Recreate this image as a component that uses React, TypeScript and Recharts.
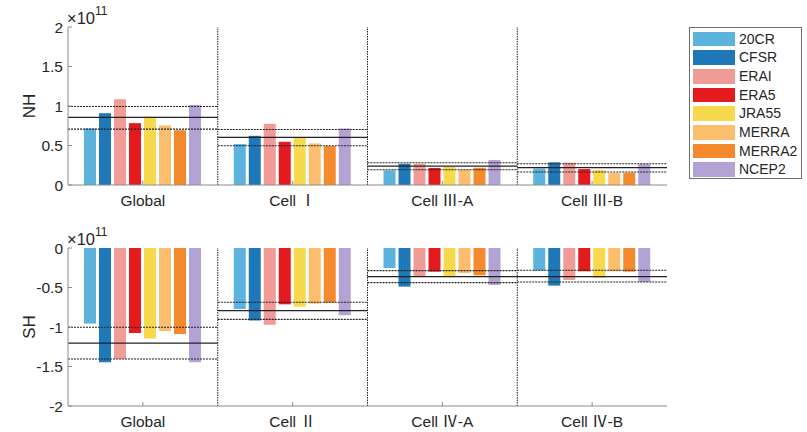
import React from "react";
import { ComposedChart, Bar, XAxis, YAxis, ReferenceLine } from "recharts";

const seriesNames = ["20CR", "CFSR", "ERAI", "ERA5", "JRA55", "MERRA", "MERRA2", "NCEP2"];
const seriesColors = ["#5bb3de", "#1f78b8", "#f09b96", "#e31b1f", "#f7d94e", "#fcbd6d", "#f58a2c", "#b3a3d4"];

const nhCategories = ["Global", "Cell Ⅰ", "Cell Ⅲ-A", "Cell Ⅲ-B"];
const shCategories = ["Global", "Cell Ⅱ", "Cell Ⅳ-A", "Cell Ⅳ-B"];

// values in units of 1e11
const nh20CR = [0.716, 0.518, 0.185, 0.21];
const nhCFSR = [0.909, 0.623, 0.269, 0.287];
const nhERAI = [1.086, 0.774, 0.269, 0.283];
const nhERA5 = [0.783, 0.547, 0.215, 0.202];
const nhJRA55 = [0.867, 0.597, 0.231, 0.189];
const nhMERRA = [0.754, 0.526, 0.193, 0.152];
const nhMERRA2 = [0.694, 0.492, 0.218, 0.155];
const nhNCEP2 = [1.014, 0.716, 0.316, 0.265];
const nhMean = [0.855, 0.602, 0.24, 0.219];
const nhUpper = [0.994, 0.703, 0.282, 0.269];
const nhLower = [0.707, 0.496, 0.193, 0.164];

const sh20CR = [-0.957, -0.772, -0.253, -0.286];
const shCFSR = [-1.447, -0.919, -0.489, -0.476];
const shERAI = [-1.405, -0.97, -0.358, -0.405];
const shERA5 = [-1.076, -0.713, -0.299, -0.295];
const shJRA55 = [-1.147, -0.742, -0.371, -0.38];
const shMERRA = [-1.05, -0.704, -0.316, -0.295];
const shMERRA2 = [-1.088, -0.691, -0.346, -0.3];
const shNCEP2 = [-1.447, -0.852, -0.468, -0.43];
const shMean = [-1.203, -0.793, -0.362, -0.362];
const shUpper = [-1.004, -0.687, -0.286, -0.282];
const shLower = [-1.405, -0.903, -0.438, -0.43];

const nhTicks = [0, 0.5, 1, 1.5, 2];
const shTicks = [-2, -1.5, -1, -0.5, 0];

const nhSeries = [nh20CR, nhCFSR, nhERAI, nhERA5, nhJRA55, nhMERRA, nhMERRA2, nhNCEP2];
const shSeries = [sh20CR, shCFSR, shERAI, shERA5, shJRA55, shMERRA, shMERRA2, shNCEP2];

const FONT = "'Liberation Sans', Arial, 'Noto Sans CJK SC', sans-serif";
const AXIS = "#8c8c8c";
const TEXT = "#262626";
const LINE = "#222";

function buildRows(categories: string[], series: number[][]) {
  return categories.map((name, i) => {
    const row: Record<string, any> = { name, pos: i + 0.5 };
    seriesNames.forEach((s, j) => (row[s] = series[j][i]));
    return row;
  });
}

interface PanelProps {
  categories: string[];
  series: number[][];
  mean: number[];
  upper: number[];
  lower: number[];
  ticks: number[];
  domain: [number, number];
}

function Panel({ categories, series, mean, upper, lower, ticks, domain }: PanelProps) {
  const data = buildRows(categories, series);
  const tickStyle = { fill: TEXT, fontSize: 15.5, fontFamily: FONT };
  return (
    <ComposedChart width={680} height={215} data={data} margin={{ top: 27, right: 13, left: 0, bottom: 0 }} barGap={3}>
      <XAxis
        dataKey="name"
        tick={tickStyle}
        tickSize={-4}
        tickMargin={14}
        height={30}
        axisLine={{ stroke: AXIS }}
        tickLine={{ stroke: AXIS }}
        interval={0}
      />
      <XAxis
        xAxisId="top"
        dataKey="name"
        orientation="top"
        tickSize={-4}
        tickFormatter={() => ""}
        height={0}
        axisLine={{ stroke: AXIS }}
        tickLine={{ stroke: AXIS }}
        interval={0}
      />
      <XAxis xAxisId="num" dataKey="pos" type="number" domain={[0, 4]} hide allowDataOverflow />
      <YAxis
        width={68}
        domain={domain}
        ticks={ticks}
        tick={tickStyle}
        tickSize={-4}
        tickMargin={9}
        axisLine={{ stroke: AXIS }}
        tickLine={{ stroke: AXIS }}
        tickFormatter={(v: number) => String(v)}
        allowDataOverflow
      />
      <YAxis
        yAxisId="right"
        orientation="right"
        width={0}
        domain={domain}
        ticks={ticks}
        tickSize={-4}
        tickFormatter={() => ""}
        axisLine={{ stroke: AXIS }}
        tickLine={{ stroke: AXIS }}
      />
      {seriesNames.map((s, j) => (
        <Bar key={s} dataKey={s} fill={seriesColors[j]} barSize={12} isAnimationActive={false} />
      ))}
      {[1, 2, 3].map((x) => (
        <ReferenceLine key={"v" + x} xAxisId="num" x={x} stroke={LINE} strokeWidth={1} strokeDasharray="1.5 1" />
      ))}
      {categories.map((c, i) => (
        <ReferenceLine
          key={"m" + i}
          xAxisId="num"
          segment={[{ x: i, y: mean[i] }, { x: i + 1, y: mean[i] }]}
          stroke={LINE}
          strokeWidth={1.3}
          ifOverflow="visible"
        />
      ))}
      {categories.map((c, i) => (
        <ReferenceLine
          key={"u" + i}
          xAxisId="num"
          segment={[{ x: i, y: upper[i] }, { x: i + 1, y: upper[i] }]}
          stroke={LINE}
          strokeWidth={1.1}
          strokeDasharray="2 1"
          ifOverflow="visible"
        />
      ))}
      {categories.map((c, i) => (
        <ReferenceLine
          key={"l" + i}
          xAxisId="num"
          segment={[{ x: i, y: lower[i] }, { x: i + 1, y: lower[i] }]}
          stroke={LINE}
          strokeWidth={1.1}
          strokeDasharray="2 1"
          ifOverflow="visible"
        />
      ))}
    </ComposedChart>
  );
}

function Exponent({ top }: { top: number }) {
  return (
    <svg style={{ position: "absolute", left: 0, top, overflow: "visible" }} width={130} height={30}>
      <text x={67} y={24} fontSize={16.5} fontFamily={FONT} fill={TEXT}>
        ×10
        <tspan dy={-9} fontSize={12}>11</tspan>
      </text>
    </svg>
  );
}

function AxisTitle({ label, cy }: { label: string; cy: number }) {
  return (
    <svg style={{ position: "absolute", left: 0, top: 0, overflow: "visible" }} width={60} height={432}>
      <text
        x={29}
        y={cy}
        transform={`rotate(-90 29 ${cy})`}
        textAnchor="middle"
        dominantBaseline="central"
        fontSize={17}
        fontFamily={FONT}
        fill={TEXT}
      >
        {label}
      </text>
    </svg>
  );
}

function LegendBox() {
  return (
    <div
      style={{
        position: "absolute",
        left: 689,
        top: 27,
        width: 111,
        height: 150,
        border: "1px solid #6e6e6e",
        background: "#fff",
        fontFamily: FONT,
        fontSize: 14,
        color: TEXT,
      }}
    >
      {seriesNames.map((s, j) => (
        <div key={s} style={{ position: "absolute", left: 3, top: 3.5 + j * 18.67, height: 15, display: "flex", alignItems: "center" }}>
          <div style={{ width: 42, height: 14.5, background: seriesColors[j] }} />
          <span style={{ marginLeft: 4, lineHeight: "15px" }}>{s}</span>
        </div>
      ))}
    </div>
  );
}

export default function App() {
  return (
    <div style={{ position: "absolute", left: 0, top: 0, width: 807, height: 432, background: "#fff", fontFamily: FONT }}>
      <div style={{ position: "absolute", left: 0, top: 0 }}>
        <Panel categories={nhCategories} series={nhSeries} mean={nhMean} upper={nhUpper} lower={nhLower} ticks={nhTicks} domain={[0, 2]} />
      </div>
      <div style={{ position: "absolute", left: 0, top: 221 }}>
        <Panel categories={shCategories} series={shSeries} mean={shMean} upper={shUpper} lower={shLower} ticks={shTicks} domain={[-2, 0]} />
      </div>
      <Exponent top={0} />
      <Exponent top={221} />
      <AxisTitle label="NH" cy={106} />
      <AxisTitle label="SH" cy={327} />
      <LegendBox />
    </div>
  );
}
